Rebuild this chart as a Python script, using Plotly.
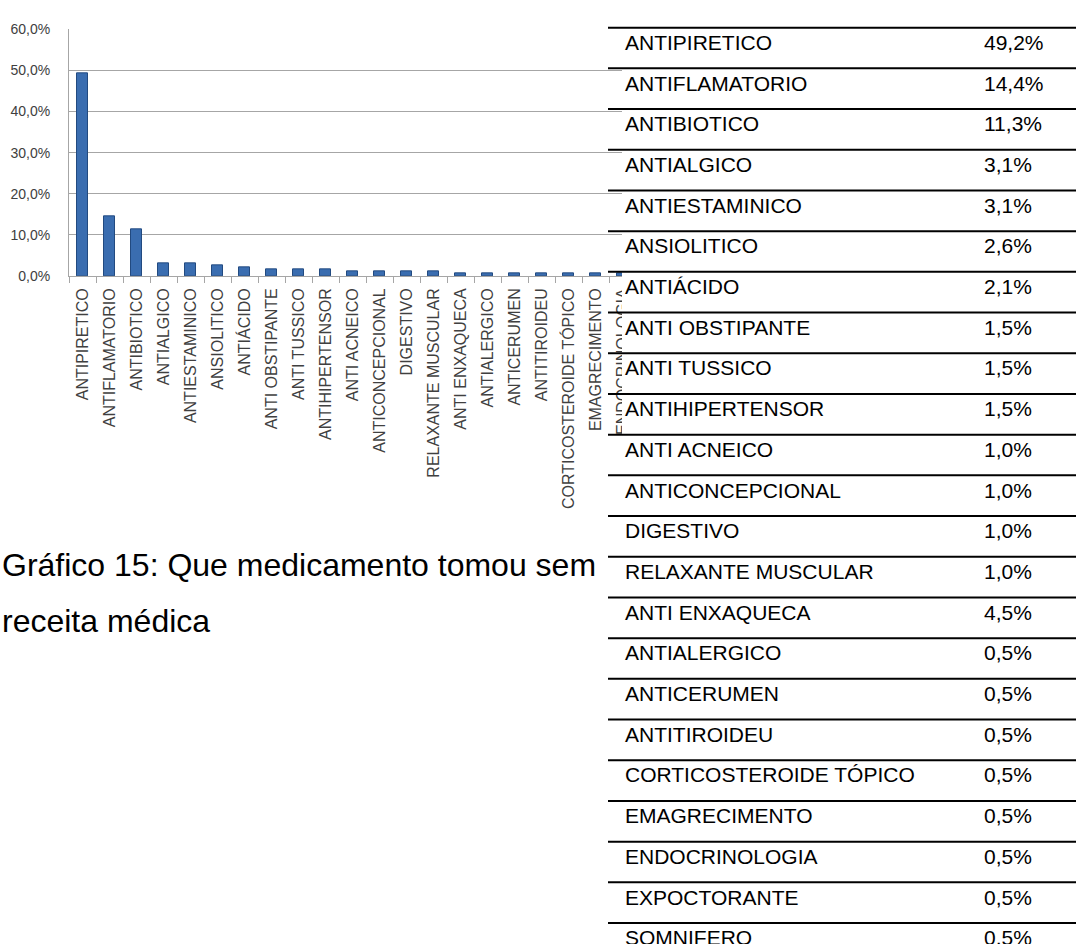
import plotly.graph_objects as go

W, H = 1076, 944

categories = ["ANTIPIRETICO", "ANTIFLAMATORIO", "ANTIBIOTICO", "ANTIALGICO", "ANTIESTAMINICO",
              "ANSIOLITICO", "ANTIÁCIDO", "ANTI OBSTIPANTE", "ANTI TUSSICO", "ANTIHIPERTENSOR",
              "ANTI ACNEICO", "ANTICONCEPCIONAL", "DIGESTIVO", "RELAXANTE MUSCULAR", "ANTI ENXAQUECA",
              "ANTIALERGICO", "ANTICERUMEN", "ANTITIROIDEU", "CORTICOSTEROIDE TÓPICO", "EMAGRECIMENTO",
              "ENDOCRINOLOGIA", "EXPOCTORANTE", "SOMNIFERO"]
values = [49.2, 14.4, 11.3, 3.1, 3.1, 2.6, 2.1, 1.5, 1.5, 1.5, 1.0, 1.0, 1.0, 1.0,
          0.5, 0.5, 0.5, 0.5, 0.5, 0.5, 0.5, 0.5, 0.5]

table_names = categories
table_values = ["49,2%", "14,4%", "11,3%", "3,1%", "3,1%", "2,6%", "2,1%", "1,5%", "1,5%", "1,5%",
                "1,0%", "1,0%", "1,0%", "1,0%", "4,5%", "0,5%", "0,5%", "0,5%", "0,5%", "0,5%",
                "0,5%", "0,5%", "0,5%"]

caption_lines = ["Gráfico 15: Que medicamento tomou sem", "receita médica"]
y_ticks = [0, 10, 20, 30, 40, 50, 60]
y_ticktext = [f"{v:.1f}".replace(".", ",") + "%" for v in y_ticks]


def px(x):
    return x / W


def py(y):
    return 1 - y / H


fig = go.Figure()
fig.add_trace(go.Bar(
    x=categories, y=values, width=0.41,
    marker=dict(color="#3a6db0", line=dict(color="#224a80", width=1)),
    hoverinfo="skip", showlegend=False,
))

cat_w = 27
x_left = 69
fig.update_layout(
    width=W, height=H,
    margin=dict(l=0, r=0, t=0, b=0),
    paper_bgcolor="white", plot_bgcolor="white",
    bargap=0,
    xaxis=dict(
        domain=[px(x_left), px(x_left + cat_w * len(categories))],
        range=[-0.5, len(categories) - 0.5],
        showline=True, linecolor="#a6a6a6", linewidth=1,
        ticks="outside", ticklen=6, tickcolor="#a6a6a6", tickson="boundaries",
        tickangle=-90, ticklabelstandoff=5,
        tickfont=dict(family="Liberation Sans", size=16, color="#404040"),
        showgrid=False, fixedrange=True,
    ),
    yaxis=dict(
        domain=[py(272.5), py(21.7)],
        range=[0, 60], tickvals=y_ticks, ticktext=y_ticktext,
        showline=True, linecolor="#a6a6a6", linewidth=1,
        showgrid=True, gridcolor="#a6a6a6", gridwidth=1, zeroline=False,
        ticks="", ticklabelstandoff=15,
        tickfont=dict(family="Liberation Sans", size=14, color="#404040"),
        fixedrange=True,
    ),
)

shapes = [dict(type="rect", xref="paper", yref="paper", x0=px(622), x1=1, y0=0, y1=1,
               fillcolor="white", line=dict(width=0), layer="above")]
annotations = []
row_top = 20
row_h = 41.4
for k, (name, val) in enumerate(zip(table_names, table_values)):
    y0 = row_top + row_h * k
    shapes.append(dict(type="line", xref="paper", yref="paper", x0=px(608), x1=1,
                       y0=py(y0), y1=py(y0), line=dict(color="black", width=2), layer="above"))
    for text, xx in ((name, 623), (val, 982)):
        annotations.append(dict(text=text, xref="paper", yref="paper", x=px(xx), y=py(y0 + 15),
                                xanchor="left", yanchor="middle", showarrow=False,
                                font=dict(family="Liberation Sans", size=21, color="black")))

for text, yy in zip(caption_lines, [567, 624]):
    annotations.append(dict(text=text, xref="paper", yref="paper", x=0, y=py(yy),
                            xanchor="left", yanchor="middle", showarrow=False,
                            font=dict(family="Liberation Sans", size=32, color="black")))

fig.update_layout(shapes=shapes, annotations=annotations)

fig.write_html("out.html", config={"displayModeBar": False},
               post_script="document.body.style.margin='0';document.body.style.overflow='hidden';")
